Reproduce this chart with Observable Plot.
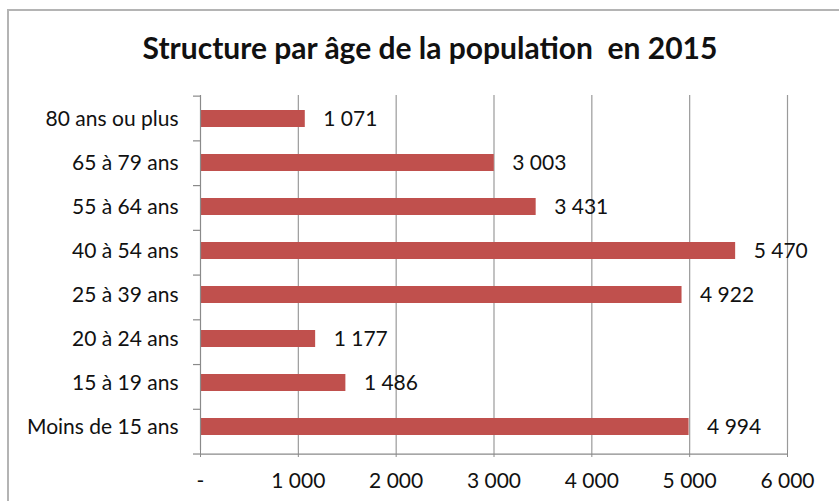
<!DOCTYPE html>
<html>
<head>
<meta charset="utf-8">
<script src="https://cdn.jsdelivr.net/npm/d3@7"></script>
<script src="https://cdn.jsdelivr.net/npm/@observablehq/plot@0.6"></script>
<style>
  html, body { margin: 0; padding: 0; background: #fff; }
  #wrap { position: relative; width: 839px; height: 501px; overflow: hidden; }
  #border { position: absolute; left: 7px; top: 9px; width: 900px; height: 600px;
            border-top: 2px solid #b4b4b4; border-left: 2px solid #b4b4b4; box-sizing: border-box; }
  #title { position: absolute; left: 0; width: 860px; top: 28px; text-align: center; white-space: pre;
           font-family: Lato, sans-serif; font-weight: bold; font-size: 30px; line-height: 38px; color: #111; }
  #chart { position: absolute; left: 0; top: 0; }
</style>
</head>
<body>
<div id="wrap">
  <div id="border"></div>
  <div id="title">Structure par âge de la population  en 2015</div>
  <div id="chart"></div>
</div>
<script>
const categories = ["80 ans ou plus", "65 à 79 ans", "55 à 64 ans", "40 à 54 ans",
                    "25 à 39 ans", "20 à 24 ans", "15 à 19 ans", "Moins de 15 ans"];
const values = [1071, 3003, 3431, 5470, 4922, 1177, 1486, 4994];
const xTicks = [0, 1000, 2000, 3000, 4000, 5000, 6000];

const data = categories.map((c, i) => ({age: c, value: values[i]}));
const fmt = v => v === 0 ? "-" : d3.format(",")(v).replace(/,/g, " ");

const plot = Plot.plot({
  width: 839,
  height: 501,
  marginTop: 95,
  marginBottom: 51,
  marginLeft: 200,
  marginRight: 52,
  style: {fontFamily: "Lato, sans-serif", fontSize: "21px", color: "#111", background: "transparent"},
  x: {domain: [0, 6000], ticks: xTicks, label: null},
  y: {domain: categories, paddingInner: 0.62, paddingOuter: 0.31, label: null},
  marks: [
    Plot.ruleX(xTicks.slice(1), {stroke: "#9a9a9a", strokeWidth: 1.2, strokeOpacity: 1}),
    Plot.barX(data, {y: "age", x: "value", fill: "#C0504D"}),
    Plot.ruleX([0], {stroke: "#8a8a8a", strokeWidth: 1.2}),
    Plot.text(data, {y: "age", x: "value", text: d => fmt(d.value), dx: 18, textAnchor: "start",
                     fill: "#111", fontSize: 21}),
    Plot.axisX({ticks: xTicks, tickFormat: fmt, tickSize: 7, tickPadding: 16, stroke: "#8a8a8a",
                fontSize: 21, label: null}),
    Plot.axisY({tickSize: 0, tickPadding: 22, fontSize: 21, label: null})
  ]
});

// Excel-style axis lines and boundary ticks, placed through the plot's own scales
const svg = d3.select(plot);
const xs = plot.scale("x"), ys = plot.scale("y");
const bandStep = ys.bandwidth / (1 - 0.62);
const xStart = xs.apply(0), xEnd = xs.apply(6000);
const yTop = ys.apply(categories[0]) - bandStep * 0.31;
const yBottom = yTop + bandStep * categories.length;
const g = svg.append("g").attr("stroke", "#8a8a8a").attr("stroke-width", 1.2);
g.append("line").attr("x1", xStart).attr("x2", xEnd).attr("y1", yBottom).attr("y2", yBottom);
for (let i = 0; i <= categories.length; i++) {
  const yy = yTop + i * bandStep;
  g.append("line").attr("x1", xStart - 7).attr("x2", xStart).attr("y1", yy).attr("y2", yy);
}
document.getElementById("chart").appendChild(plot);
</script>
</body>
</html>
